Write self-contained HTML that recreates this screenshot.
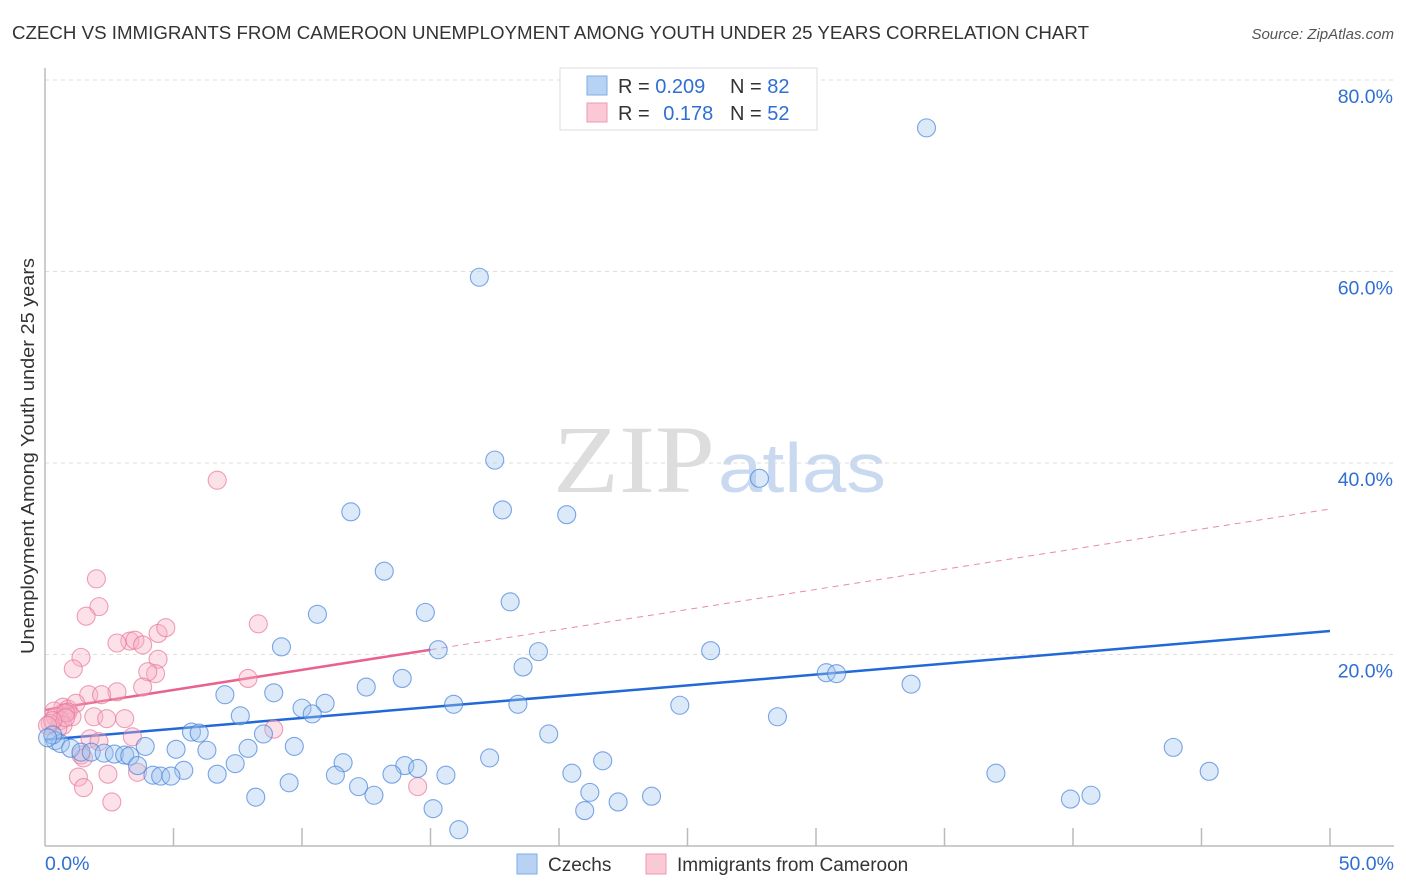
<!DOCTYPE html>
<html><head><meta charset="utf-8"><style>
body{margin:0;background:#fff;font-family:"Liberation Sans",sans-serif;}
#wrap{position:relative;width:1406px;height:892px;overflow:hidden;}
svg{position:absolute;left:0;top:0;}
</style></head><body>
<div id="wrap">
<svg id="chart" width="1406" height="892" xmlns="http://www.w3.org/2000/svg">
<text x="12" y="39" font-size="18" fill="#333" textLength="1077" lengthAdjust="spacingAndGlyphs">CZECH VS IMMIGRANTS FROM CAMEROON UNEMPLOYMENT AMONG YOUTH UNDER 25 YEARS CORRELATION CHART</text>
<text x="1394" y="39" font-size="15" fill="#555" font-style="italic" text-anchor="end">Source: ZipAtlas.com</text>
<text x="34" y="456" font-size="18" fill="#333" text-anchor="middle" textLength="396" lengthAdjust="spacingAndGlyphs" transform="rotate(-90 34 456)">Unemployment Among Youth under 25 years</text>
<g>
<text x="553" y="492" font-family="Liberation Serif,serif" font-size="96" fill="#ddd" textLength="162" lengthAdjust="spacingAndGlyphs">ZIP</text>
<text x="718" y="492" font-size="70" fill="#c9d9f0" textLength="168" lengthAdjust="spacingAndGlyphs">atlas</text>
</g>
<g id="grid"></g><g id="axes"></g><g id="trend"></g><g id="pts"></g>
<g>
<rect x="560" y="68" width="257" height="62" fill="#fff" stroke="#ddd"/>
<rect x="587" y="76" width="20" height="19" fill="#b8d2f4" stroke="#7eaee6"/>
<rect x="587" y="103" width="20" height="19" fill="#fbc8d6" stroke="#ee9ab3"/>
<text x="618" y="93" font-size="20" fill="#333">R = <tspan fill="#2f6fd1">0.209</tspan></text>
<text x="730" y="93" font-size="20" fill="#333">N = <tspan fill="#2f6fd1">82</tspan></text>
<text x="618" y="120" font-size="20" fill="#333">R = <tspan fill="#2f6fd1" dx="8">0.178</tspan></text>
<text x="730" y="120" font-size="20" fill="#333">N = <tspan fill="#2f6fd1">52</tspan></text>
</g>
<g>
<rect x="517" y="854" width="20" height="20" fill="#b8d2f4" stroke="#7eaee6"/>
<text x="548" y="871" font-size="19" fill="#333">Czechs</text>
<rect x="646" y="854" width="20" height="20" fill="#fbc8d6" stroke="#ee9ab3"/>
<text x="677" y="871" font-size="19" fill="#333">Immigrants from Cameroon</text>
</g>
</svg>
</div>
<script>
const xTicks=[0,50];
const yTicks=[20,40,60,80];
const czechX=[34.3,16.9,17.5,27.8,11.9,17.8,20.3,13.2,18.1,10.6,14.8,9.2,15.3,19.2,25.9,18.6,30.4,30.8,13.9,33.7,12.5,7.0,8.9,10.9,10.0,15.9,18.4,10.4,7.6,24.7,28.5,5.7,6.0,8.5,19.6,3.9,5.1,6.3,7.9,9.7,43.9,0.4,0.6,1.0,1.4,1.8,2.3,2.7,3.1,3.3,3.6,17.3,11.6,21.7,45.3,5.4,7.4,14.0,14.5,4.2,4.5,4.9,6.7,11.3,13.5,15.6,20.5,37.0,9.5,12.2,21.2,12.8,8.2,23.6,22.3,40.7,39.9,15.1,21.0,16.1,0.3,0.1];
const czechY=[75.0,59.4,40.3,38.4,34.9,35.1,34.6,28.7,25.5,24.2,24.4,20.8,20.5,20.3,20.4,18.7,18.1,18.0,17.5,16.9,16.6,15.8,16.0,14.9,14.4,14.8,14.8,13.8,13.6,14.7,13.5,11.9,11.8,11.7,11.7,10.4,10.1,10.0,10.2,10.4,10.3,11.0,10.7,10.2,9.8,9.8,9.7,9.6,9.5,9.4,8.4,9.2,8.7,8.9,7.8,7.9,8.6,8.4,8.1,7.4,7.3,7.3,7.5,7.4,7.5,7.4,7.6,7.6,6.6,6.2,5.6,5.3,5.1,5.2,4.6,5.3,4.9,3.9,3.7,1.7,11.6,11.3];
const camX=[6.7,2.0,2.1,1.6,3.3,4.4,3.5,3.8,2.8,4.7,8.3,1.4,1.1,4.4,4.3,4.0,7.9,3.8,2.8,1.7,2.2,0.7,0.9,1.2,1.9,2.4,0.7,0.9,1.05,3.1,0.35,0.4,0.6,0.7,0.5,0.2,8.9,1.75,3.4,2.1,1.4,1.5,3.6,2.45,1.3,1.5,14.5,2.6,0.8,0.8,0.3,0.1];
const camY=[38.2,27.9,25.0,24.0,21.4,22.2,21.5,21.0,21.2,22.8,23.2,19.7,18.5,19.5,18.0,18.2,17.5,16.6,16.1,15.8,15.8,14.5,14.3,14.9,13.5,13.3,13.9,14.0,13.5,13.3,14.1,13.5,13.1,12.6,12.3,12.8,12.2,11.2,11.4,10.9,9.5,9.2,7.7,7.5,7.2,6.1,6.2,4.6,13.9,13.4,13.1,12.6];
const blueTrend=[11.1,22.45];
const pinkTrend=[14.2,35.2];
const pinkSolidEnd=15;
const X=v=>45+v*25.7, Y=v=>846-v*9.575;
const NS="http://www.w3.org/2000/svg";
function mk(tag,attrs,parent){const e=document.createElementNS(NS,tag);for(const k in attrs)e.setAttribute(k,attrs[k]);document.getElementById(parent).appendChild(e);return e;}
yTicks.forEach(t=>{
 const l=mk('line',{x1:45,x2:1394,y1:Y(t),y2:Y(t),stroke:'#ddd','stroke-dasharray':'4 4'},'grid');
 
 
 const tx=mk('text',{x:1393,y:Y(t)+23,'font-size':19.5,fill:'#2f6fd1','text-anchor':'end'},'grid');
 tx.textContent=t.toFixed(1)+'%';
 
 
});
const ax=mk('line',{x1:45,x2:45,y1:68,y2:846,stroke:'#bbb','stroke-width':1.5},'axes');


const bx=mk('line',{x1:45,x2:1394,y1:846,y2:846,stroke:'#bbb','stroke-width':1.5},'axes');


for(let k=1;k<=10;k++){
 const t=mk('line',{x1:X(k*5),x2:X(k*5),y1:828,y2:846,stroke:'#bbb','stroke-width':1.5},'axes');
 
 
}
xTicks.forEach((t,i)=>{
 const tx=mk('text',{x:i?1394:45,y:870,'font-size':19.5,fill:'#2f6fd1','text-anchor':i?'end':'start'},'axes');
 tx.textContent=t.toFixed(1)+'%';
 
 
});
const bt=mk('line',{x1:X(0),y1:Y(blueTrend[0]),x2:X(50),y2:Y(blueTrend[1]),stroke:'#2169d6','stroke-width':2.5},'trend');


const pAt=v=>pinkTrend[0]+(pinkTrend[1]-pinkTrend[0])*v/50;
const pd=mk('line',{x1:X(pinkSolidEnd),y1:Y(pAt(pinkSolidEnd)),x2:X(50),y2:Y(pinkTrend[1]),stroke:'#e88aa8','stroke-width':1,'stroke-dasharray':'6 5'},'trend');


const ps=mk('line',{x1:X(0),y1:Y(pinkTrend[0]),x2:X(pinkSolidEnd),y2:Y(pAt(pinkSolidEnd)),stroke:'#e8628e','stroke-width':2.5},'trend');


camX.forEach((x,i)=>{
 const c=mk('circle',{cx:X(x),cy:Y(camY[i]),r:9,fill:'rgba(248,175,198,0.38)',stroke:'rgba(232,120,155,0.7)','stroke-width':1.1},'pts');
 
 
});
czechX.forEach((x,i)=>{
 const c=mk('circle',{cx:X(x),cy:Y(czechY[i]),r:9,fill:'rgba(160,196,240,0.38)',stroke:'rgba(70,130,220,0.7)','stroke-width':1.1},'pts');
 
 
});
</script>
</body></html>
